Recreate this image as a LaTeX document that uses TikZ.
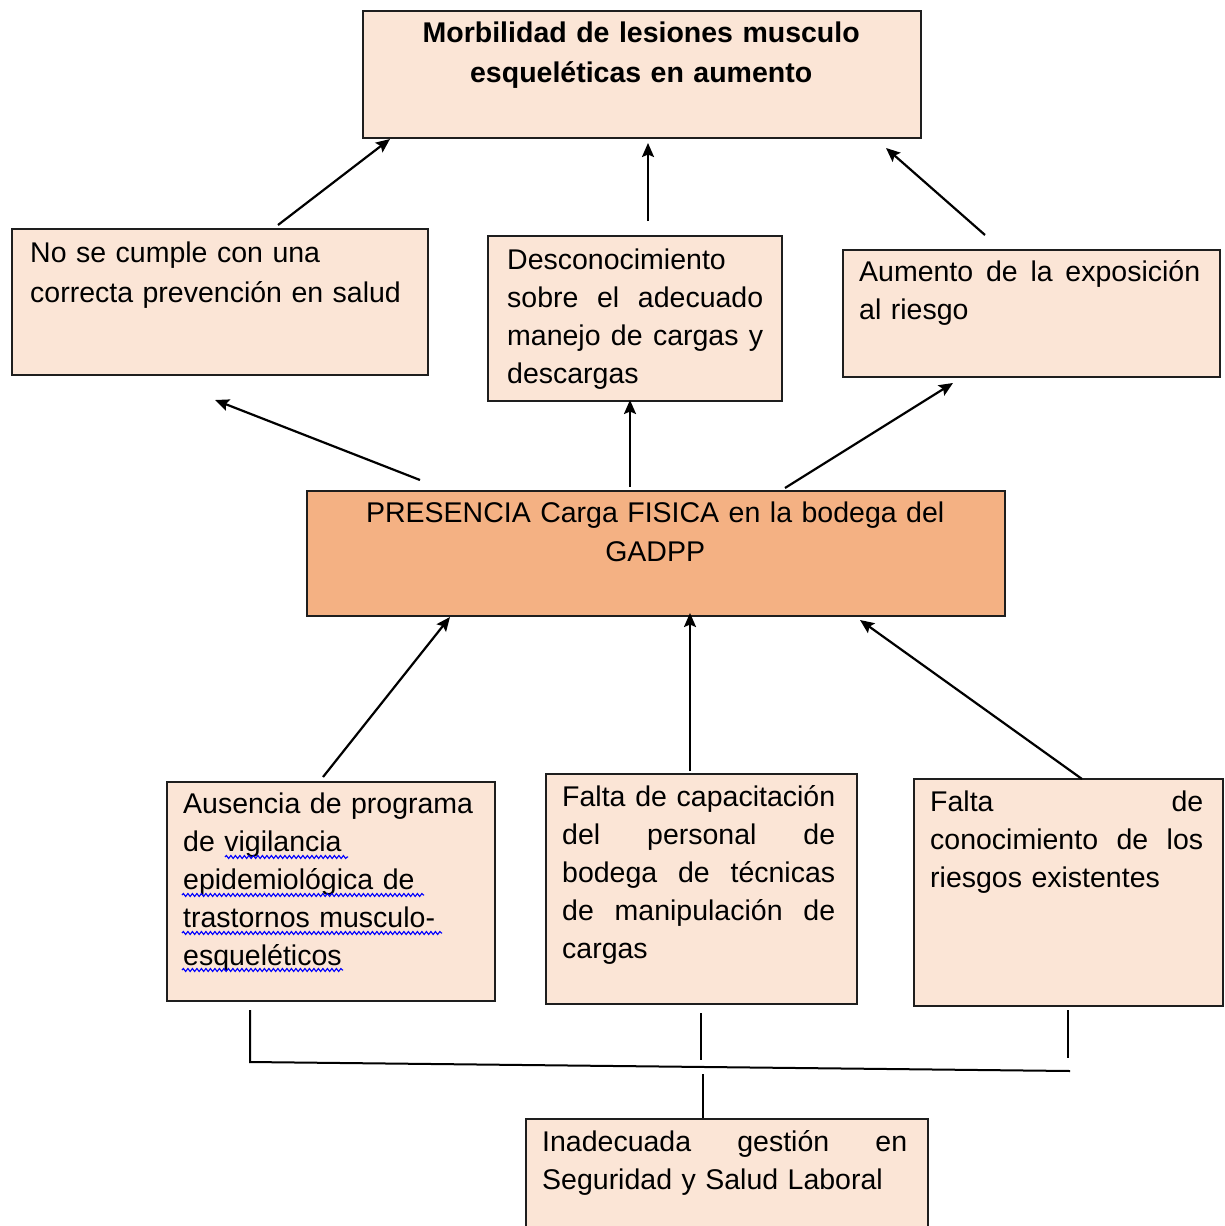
\documentclass[tikz,border=0pt]{standalone}
\usepackage{fontspec}
\setmainfont{Liberation Sans}
\usetikzlibrary{arrows.meta,decorations.pathmorphing}
\definecolor{boxlight}{HTML}{FBE5D6}
\definecolor{boxmid}{HTML}{F4B183}
\definecolor{edgecol}{HTML}{1E1E1E}
% a line whose interword spaces are stretched to the full text width (justified line)
\newcommand\jline[1]{\leavevmode\hbox to \hsize{\spaceskip=0pt\xspaceskip=0pt\relax #1}}
\hbadness=10000
\begin{document}
\begin{tikzpicture}[x=1pt,y=-1pt,
  box/.style={draw=edgecol, line width=2pt, fill=boxlight, anchor=north west, inner sep=0pt},
  txt/.style={anchor=base west, inner sep=0pt, align=left, text width=#1,
              font=\fontsize{28.5}{38}\selectfont},
  txtwide/.style={txt=#1, font=\fontsize{28.5}{40}\selectfont},
  arr/.style={-{Stealth[length=14pt,width=12pt,inset=2.5pt]}, line width=2.2pt, draw=black},
  link/.style={line width=2pt, draw=black},
  spell/.style={draw=blue, line width=1.1pt, decorate,
                decoration={snake, amplitude=1.5pt, segment length=4.5pt}}]
\useasboundingbox (0,0) rectangle (1224,1226);
\clip (0,0) rectangle (1224,1226);
\fill[white] (0,0) rectangle (1224,1226);

% ---- effect (top)
\node[box, minimum width=558pt, minimum height=127pt] (efecto) at (362,10) {};
\node[txtwide=540pt, align=center, font=\fontsize{28.5}{40}\selectfont\bfseries] (efectotxt) at (371,42)
  {Morbilidad de lesiones musculo\\esqueléticas en aumento};

% ---- consequences
\node[box, minimum width=416pt, minimum height=146pt] (cons1) at (11,228) {};
\node[txtwide=390pt] (cons1txt) at (30,262) {No se cumple con una\\correcta prevención en salud};

\node[box, minimum width=294pt, minimum height=165pt] (cons2) at (487,235) {};
\node[txt=256pt] (cons2txt) at (507,269)
  {Desconocimiento\\\jline{sobre el adecuado}\\\jline{manejo de cargas y}\\descargas};

\node[box, minimum width=377pt, minimum height=127pt] (cons3) at (842,249) {};
\node[txt=341pt] (cons3txt) at (859,281) {\jline{Aumento de la exposición}\\al riesgo};

% ---- central problem
\node[box, fill=boxmid, minimum width=698pt, minimum height=125pt] (problema) at (306,490) {};
\node[txt=680pt, align=center, font=\fontsize{28.5}{39}\selectfont] (problematxt) at (315,522)
  {PRESENCIA Carga FISICA en la bodega del\\GADPP};

% ---- causes
\node[box, minimum width=328pt, minimum height=219pt] (causa1) at (166,781) {};
\node[txt=300pt] (causa1txt) at (183,813)
  {Ausencia de programa\\de vigilancia\\epidemiológica de\\trastornos musculo-\\esqueléticos};

\node[box, minimum width=311pt, minimum height=230pt] (causa2) at (545,773) {};
\node[txt=273pt] (causa2txt) at (562,806)
  {\jline{Falta de capacitación}\\\jline{del personal de}\\\jline{bodega de técnicas}\\\jline{de manipulación de}\\cargas};

\node[box, minimum width=309pt, minimum height=227pt] (causa3) at (913,778) {};
\node[txt=273pt] (causa3txt) at (930,811)
  {\jline{Falta de}\\\jline{conocimiento de los}\\riesgos existentes};

% ---- root cause
\node[box, minimum width=402pt, minimum height=140pt] (raiz) at (525,1118) {};
\node[txt=365pt] (raiztxt) at (542,1151)
  {\jline{Inadecuada gestión en}\\Seguridad y Salud Laboral};

% spell-check marks under the cause text
\draw[spell] (225,857) -- (348,857);
\draw[spell] (182,895) -- (424,895);
\draw[spell] (182,933) -- (442,933);
\draw[spell] (182,970) -- (343,970);

% ---- connector end points
\coordinate (c1a) at (278,225);  \coordinate (c1b) at (390,139);
\coordinate (c2a) at (648,221);  \coordinate (c2b) at (648,143);
\coordinate (c3a) at (985,235);  \coordinate (c3b) at (886,148);
\coordinate (p1a) at (420,480);  \coordinate (p1b) at (215,400);
\coordinate (p2a) at (630,487);  \coordinate (p2b) at (630,400);
\coordinate (p3a) at (785,488);  \coordinate (p3b) at (953,383);
\coordinate (k1a) at (323,777);  \coordinate (k1b) at (450,617);
\coordinate (k2a) at (690,771);  \coordinate (k2b) at (690,613);
\coordinate (k3a) at (1082,779); \coordinate (k3b) at (860,620);

\draw[arr] (c1a) -- (c1b);
\draw[arr] (c2a) -- (c2b);
\draw[arr] (c3a) -- (c3b);
\draw[arr] (p1a) -- (p1b);
\draw[arr] (p2a) -- (p2b);
\draw[arr] (p3a) -- (p3b);
\draw[arr] (k1a) -- (k1b);
\draw[arr] (k2a) -- (k2b);
\draw[arr] (k3a) -- (k3b);

% ---- bracket joining the causes to the root cause
\coordinate (b1t) at (250,1010);  \coordinate (b1b) at (250,1062);
\coordinate (b2t) at (701,1013);  \coordinate (b2b) at (701,1060);
\coordinate (b3t) at (1068,1010); \coordinate (b3b) at (1068,1058);
\coordinate (bend) at (1070,1071);
\coordinate (rt) at (703,1074);   \coordinate (rb) at (703,1118);
\draw[link] (b1t) -- (b1b) -- (bend);
\draw[link] (b2t) -- (b2b);
\draw[link] (b3t) -- (b3b);
\draw[link] (rt) -- (rb);
\end{tikzpicture}
\end{document}
